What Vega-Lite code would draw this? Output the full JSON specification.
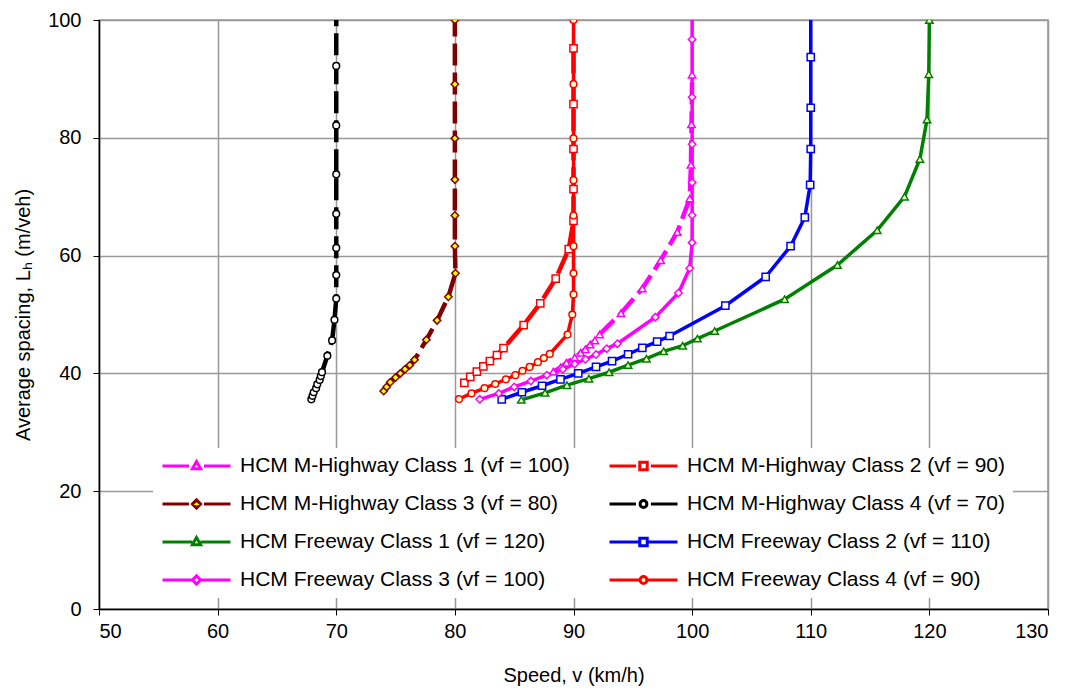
{
  "$schema": "https://vega.github.io/schema/vega-lite/v6.json",
  "autosize": "none",
  "padding": {"left": 99, "top": 20, "right": 26, "bottom": 86},
  "width": 949,
  "height": 589,
  "background": "white",
  "config": {
    "view": {"stroke": "#999999", "strokeWidth": 1.5},
    "axis": {
      "domainColor": "black", "domainWidth": 1.5, "tickColor": "black", "tickSize": 6, "tickWidth": 1,
      "labelFont": "Liberation Sans", "labelFontSize": 20, "labelColor": "black",
      "titleFont": "Liberation Sans", "titleFontSize": 20, "titleFontWeight": "normal", "titleColor": "black",
      "gridColor": "#999999", "gridWidth": 1.5
    }
  },
  "data": {"values": [
    {"s":"M1","v":88.3,"L":40.3},{"s":"M1","v":88.9,"L":41.0},{"s":"M1","v":89.4,"L":41.8},{"s":"M1","v":90.1,"L":42.7},{"s":"M1","v":90.6,"L":43.5},{"s":"M1","v":91.0,"L":44.1},{"s":"M1","v":91.4,"L":44.9},{"s":"M1","v":91.8,"L":45.6},{"s":"M1","v":92.2,"L":46.6},{"s":"M1","v":94.0,"L":50.2},{"s":"M1","v":95.8,"L":54.4},{"s":"M1","v":97.35,"L":59.2},{"s":"M1","v":98.75,"L":64.0},{"s":"M1","v":99.8,"L":69.7},{"s":"M1","v":99.9,"L":75.4},{"s":"M1","v":99.95,"L":82.3},{"s":"M1","v":100,"L":90.7},
    {"s":"M2","v":80.8,"L":38.4},{"s":"M2","v":81.3,"L":39.4},{"s":"M2","v":81.85,"L":40.3},{"s":"M2","v":82.4,"L":41.2},{"s":"M2","v":82.95,"L":42.1},{"s":"M2","v":83.55,"L":43.1},{"s":"M2","v":84.1,"L":44.3},{"s":"M2","v":85.8,"L":48.2},{"s":"M2","v":87.2,"L":51.9},{"s":"M2","v":88.5,"L":56.1},{"s":"M2","v":89.6,"L":61.1},{"s":"M2","v":90,"L":65.9},{"s":"M2","v":90,"L":71.3},{"s":"M2","v":90,"L":78.1},{"s":"M2","v":90,"L":85.7},{"s":"M2","v":90,"L":95.2},
    {"s":"M3","v":74.0,"L":37.0},{"s":"M3","v":74.25,"L":37.7},{"s":"M3","v":74.55,"L":38.5},{"s":"M3","v":75.0,"L":39.3},{"s":"M3","v":75.4,"L":40.0},{"s":"M3","v":75.8,"L":40.7},{"s":"M3","v":76.2,"L":41.4},{"s":"M3","v":76.6,"L":42.3},{"s":"M3","v":77.6,"L":45.7},{"s":"M3","v":78.5,"L":49.0},{"s":"M3","v":79.45,"L":53.0},{"s":"M3","v":80.05,"L":57.0},{"s":"M3","v":80,"L":61.6},{"s":"M3","v":80,"L":66.8},{"s":"M3","v":80,"L":72.9},{"s":"M3","v":80,"L":79.9},{"s":"M3","v":80,"L":89.1},{"s":"M3","v":80,"L":100},
    {"s":"M4","v":67.9,"L":35.6},{"s":"M4","v":68.0,"L":36.2},{"s":"M4","v":68.1,"L":36.8},{"s":"M4","v":68.3,"L":37.5},{"s":"M4","v":68.4,"L":38.15},{"s":"M4","v":68.6,"L":38.9},{"s":"M4","v":68.7,"L":39.55},{"s":"M4","v":68.8,"L":40.2},{"s":"M4","v":69.25,"L":43.0},{"s":"M4","v":69.65,"L":45.6},{"s":"M4","v":69.85,"L":49.1},{"s":"M4","v":70,"L":52.7},{"s":"M4","v":70,"L":56.7},{"s":"M4","v":70,"L":61.3},{"s":"M4","v":70,"L":67.1},{"s":"M4","v":70,"L":73.8},{"s":"M4","v":70,"L":82.1},{"s":"M4","v":70,"L":92.2},{"s":"M4","v":70,"L":104},
    {"s":"F1","v":85.6,"L":35.5},{"s":"F1","v":87.6,"L":36.7},{"s":"F1","v":89.45,"L":38.0},{"s":"F1","v":91.3,"L":39.1},{"s":"F1","v":93.0,"L":40.2},{"s":"F1","v":94.6,"L":41.4},{"s":"F1","v":96.15,"L":42.5},{"s":"F1","v":97.6,"L":43.75},{"s":"F1","v":99.2,"L":44.7},{"s":"F1","v":100.45,"L":45.9},{"s":"F1","v":101.9,"L":47.2},{"s":"F1","v":107.8,"L":52.6},{"s":"F1","v":112.25,"L":58.4},{"s":"F1","v":115.6,"L":64.3},{"s":"F1","v":117.9,"L":70.0},{"s":"F1","v":119.2,"L":76.4},{"s":"F1","v":119.8,"L":83.1},{"s":"F1","v":119.95,"L":90.8},{"s":"F1","v":120,"L":100},
    {"s":"F2","v":83.95,"L":35.6},{"s":"F2","v":85.65,"L":36.8},{"s":"F2","v":87.35,"L":37.9},{"s":"F2","v":88.9,"L":39.0},{"s":"F2","v":90.4,"L":40.0},{"s":"F2","v":91.9,"L":41.1},{"s":"F2","v":93.25,"L":42.1},{"s":"F2","v":94.6,"L":43.25},{"s":"F2","v":95.8,"L":44.35},{"s":"F2","v":97.05,"L":45.4},{"s":"F2","v":98.1,"L":46.35},{"s":"F2","v":102.8,"L":51.5},{"s":"F2","v":106.2,"L":56.4},{"s":"F2","v":108.3,"L":61.6},{"s":"F2","v":109.5,"L":66.5},{"s":"F2","v":109.95,"L":72.0},{"s":"F2","v":110,"L":78.1},{"s":"F2","v":110,"L":85.1},{"s":"F2","v":110,"L":93.7},{"s":"F2","v":110,"L":106},
    {"s":"F3","v":82.1,"L":35.6},{"s":"F3","v":83.7,"L":36.6},{"s":"F3","v":85.0,"L":37.7},{"s":"F3","v":86.4,"L":38.7},{"s":"F3","v":87.75,"L":39.7},{"s":"F3","v":89.1,"L":40.7},{"s":"F3","v":90.1,"L":41.6},{"s":"F3","v":91.0,"L":42.4},{"s":"F3","v":91.9,"L":43.2},{"s":"F3","v":92.8,"L":44.2},{"s":"F3","v":93.7,"L":45.05},{"s":"F3","v":96.9,"L":49.55},{"s":"F3","v":98.85,"L":53.65},{"s":"F3","v":99.8,"L":57.85},{"s":"F3","v":100,"L":62.2},{"s":"F3","v":100,"L":66.85},{"s":"F3","v":100,"L":72.4},{"s":"F3","v":100,"L":78.9},{"s":"F3","v":100,"L":86.9},{"s":"F3","v":100,"L":96.7},{"s":"F3","v":100,"L":106},
    {"s":"F4","v":80.35,"L":35.65},{"s":"F4","v":81.4,"L":36.6},{"s":"F4","v":82.5,"L":37.5},{"s":"F4","v":83.4,"L":38.2},{"s":"F4","v":84.3,"L":39.0},{"s":"F4","v":85.1,"L":39.7},{"s":"F4","v":85.7,"L":40.45},{"s":"F4","v":86.3,"L":41.1},{"s":"F4","v":87.0,"L":41.9},{"s":"F4","v":87.5,"L":42.6},{"s":"F4","v":88.0,"L":43.3},{"s":"F4","v":89.5,"L":46.6},{"s":"F4","v":89.9,"L":50.0},{"s":"F4","v":90,"L":53.4},{"s":"F4","v":90,"L":57.0},{"s":"F4","v":90,"L":61.6},{"s":"F4","v":90,"L":66.8},{"s":"F4","v":90,"L":72.8},{"s":"F4","v":90,"L":79.9},{"s":"F4","v":90,"L":89.1},{"s":"F4","v":90,"L":100}
  ]},
  "encoding": {
    "x": {"field": "v", "type": "quantitative", "scale": {"domain": [50, 130], "nice": false},
      "axis": {"values": [50,60,70,80,90,100,110,120,130], "title": "Speed, v (km/h)", "labelPadding": 6, "titlePadding": 24}},
    "y": {"field": "L", "type": "quantitative", "scale": {"domain": [0, 100], "nice": false},
      "axis": {"values": [0,20,40,60,80,100], "title": "Average spacing, Lₕ (m/veh)", "labelPadding": 12, "titlePadding": 14}}
  },
  "layer": [
    {
      "transform": [{"filter": {"field": "s", "oneOf": ["F1","F2","F3","F4"]}}],
      "mark": {"type": "line", "clip": true, "strokeWidth": 3.5},
      "encoding": {
        "color": {"field": "s", "type": "nominal",
          "scale": {"domain": ["M1","M2","M3","M4","F1","F2","F3","F4"], "range": ["#FF00FF","#FF0000","#800000","#000000","#008000","#0000FF","#FF00FF","#FF0000"]},
          "legend": {
            "title": null, "orient": "none", "legendX": 54, "legendY": 428, "columns": 2, "direction": "horizontal",
            "fillColor": "white", "padding": 8, "rowPadding": 17, "columnPadding": 38, "clipHeight": 20,
            "symbolSize": 4624, "symbolStrokeWidth": 3, "labelOffset": 8,
            "labelFont": "Liberation Sans", "labelFontSize": 21, "labelColor": "black", "labelLimit": 500,
            "labelExpr": "datum.value == 'M1' ? 'HCM M-Highway Class 1 (vf = 100)' : datum.value == 'M2' ? 'HCM M-Highway Class 2 (vf = 90)' : datum.value == 'M3' ? 'HCM M-Highway Class 3 (vf = 80)' : datum.value == 'M4' ? 'HCM M-Highway Class 4 (vf = 70)' : datum.value == 'F1' ? 'HCM Freeway Class 1 (vf = 120)' : datum.value == 'F2' ? 'HCM Freeway Class 2 (vf = 110)' : datum.value == 'F3' ? 'HCM Freeway Class 3 (vf = 100)' : 'HCM Freeway Class 4 (vf = 90)'",
            "encode": {"symbols": {"update": {
              "shape": {"signal": "datum.value == 'M1' ? 'M-1,0H-0.22M0.22,0H1M-0.12,0.08L0,-0.13L0.12,0.08Z' : datum.value == 'M2' ? 'M-1,0H-0.22M0.22,0H1M-0.11,-0.11H0.11V0.11H-0.11Z' : datum.value == 'M3' ? 'M-1,0H-0.22M0.22,0H1M-0.12,0L0,-0.12L0.12,0L0,0.12Z' : datum.value == 'M4' ? 'M-1,0H-0.22M0.22,0H1M-0.1,0A0.1,0.1,0,1,1,0.1,0A0.1,0.1,0,1,1,-0.1,0Z' : datum.value == 'F1' ? 'M-1,0H-0.12M0.12,0H1M-0.12,0.08L0,-0.13L0.12,0.08Z' : datum.value == 'F2' ? 'M-1,0H-0.11M0.11,0H1M-0.11,-0.11H0.11V0.11H-0.11Z' : datum.value == 'F3' ? 'M-1,0H-0.12M0.12,0H1M-0.12,0L0,-0.12L0.12,0L0,0.12Z' : 'M-1,0H-0.1M0.1,0H1M-0.1,0A0.1,0.1,0,1,1,0.1,0A0.1,0.1,0,1,1,-0.1,0Z'"},
              "fill": {"signal": "datum.value == 'M3' ? '#FFFF00' : (datum.value == 'M1' || datum.value == 'M2' || datum.value == 'M4') ? '#FFFFFF' : '#FFFFCC'"},
              "stroke": {"signal": "scale('color', datum.value)"},
              "opacity": {"value": 1}
            }}}
          }},
        "order": {"field": "L", "type": "quantitative"}
      }
    },
    {
      "transform": [{"filter": {"field": "s", "oneOf": ["M1","M2","M3","M4"]}}],
      "mark": {"type": "line", "clip": true, "strokeWidth": 4.5, "strokeDash": [22, 7]},
      "encoding": {
        "color": {"field": "s", "type": "nominal"},
        "order": {"field": "L", "type": "quantitative"}
      }
    },
    {
      "transform": [{"filter": {"field": "s", "oneOf": ["M1","F1"]}}],
      "mark": {"type": "point", "shape": "triangle-up", "clip": true, "filled": false, "opacity": 1, "strokeWidth": 1.5, "size": 55},
      "encoding": {
        "stroke": {"field": "s", "type": "nominal", "legend": null,
          "scale": {"domain": ["M1","M2","M3","M4","F1","F2","F3","F4"], "range": ["#FF00FF","#FF0000","#800000","#000000","#008000","#0000FF","#FF00FF","#FF0000"]}},
        "fill": {"field": "s", "type": "nominal", "legend": null,
          "scale": {"domain": ["M1","M2","M3","M4","F1","F2","F3","F4"], "range": ["#FFFFFF","#FFFFFF","#FFFF00","#FFFFFF","#FFFFCC","#FFFFCC","#FFFFCC","#FFFFCC"]}}
      }
    },
    {
      "transform": [{"filter": {"field": "s", "oneOf": ["M2","F2"]}}],
      "mark": {"type": "point", "shape": "square", "clip": true, "filled": false, "opacity": 1, "strokeWidth": 1.5, "size": 52},
      "encoding": {
        "stroke": {"field": "s", "type": "nominal", "legend": null},
        "fill": {"field": "s", "type": "nominal", "legend": null}
      }
    },
    {
      "transform": [{"filter": {"field": "s", "oneOf": ["M3","F3"]}}],
      "mark": {"type": "point", "shape": "diamond", "clip": true, "filled": false, "opacity": 1, "strokeWidth": 1.5, "size": 55},
      "encoding": {
        "stroke": {"field": "s", "type": "nominal", "legend": null},
        "fill": {"field": "s", "type": "nominal", "legend": null}
      }
    },
    {
      "transform": [{"filter": {"field": "s", "oneOf": ["M4","F4"]}}],
      "mark": {"type": "point", "shape": "circle", "clip": true, "filled": false, "opacity": 1, "strokeWidth": 1.5, "size": 45},
      "encoding": {
        "stroke": {"field": "s", "type": "nominal", "legend": null},
        "fill": {"field": "s", "type": "nominal", "legend": null}
      }
    }
  ]
}
